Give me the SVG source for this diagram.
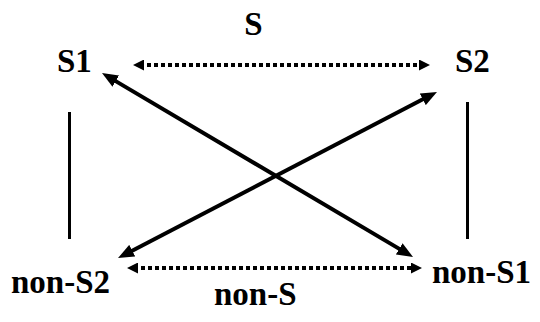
<svg xmlns="http://www.w3.org/2000/svg" width="540" height="322" viewBox="0 0 540 322">
<style>
text{font-family:'Liberation Serif','DejaVu Serif',serif;font-weight:bold;font-size:33px;fill:#000}
.solid{stroke:#000;stroke-width:4;fill:none}
.vline{stroke:#000;stroke-width:3;fill:none}
.dot{stroke:#000;stroke-width:4;stroke-dasharray:4 3;fill:none}
</style>
<defs>
<marker id="big" markerUnits="userSpaceOnUse" markerWidth="16" markerHeight="13" refX="6" refY="6.5" orient="auto-start-reverse">
<path d="M0,0 L16,6.5 L0,13 Z" fill="#000"/>
</marker>
<marker id="small" markerUnits="userSpaceOnUse" markerWidth="11" markerHeight="11" refX="4" refY="5.5" orient="auto-start-reverse">
<path d="M0,0 L11,5.5 L0,11 Z" fill="#000"/>
</marker>
</defs>
<g id="connectors">
<line class="dot" x1="140" y1="65" x2="423" y2="65" marker-start="url(#small)" marker-end="url(#small)"/>
<line class="dot" x1="134" y1="268" x2="415" y2="268" marker-start="url(#small)" marker-end="url(#small)"/>
<line class="solid" x1="110.6" y1="78.1" x2="404.4" y2="251.9" marker-start="url(#big)" marker-end="url(#big)"/>
<line class="solid" x1="428.1" y1="96.6" x2="126.9" y2="253.4" marker-start="url(#big)" marker-end="url(#big)"/>
<line class="vline" x1="69.5" y1="112" x2="69.5" y2="239"/>
<line class="vline" x1="467.5" y1="102" x2="467.5" y2="239"/>
</g>
<g id="label-S"><text font-family="Liberation Serif, serif" x="253.5" y="35" text-anchor="middle">S</text></g>
<g id="node-S1"><text font-family="Liberation Serif, serif" x="57" y="72">S1</text></g>
<g id="node-S2"><text font-family="Liberation Serif, serif" x="455" y="72">S2</text></g>
<g id="node-nonS2"><text font-family="Liberation Serif, serif" x="11" y="293">non-S2</text></g>
<g id="node-nonS1"><text font-family="Liberation Serif, serif" x="432" y="283">non-S1</text></g>
<g id="label-nonS"><text font-family="Liberation Serif, serif" x="214" y="305">non-S</text></g>
</svg>
